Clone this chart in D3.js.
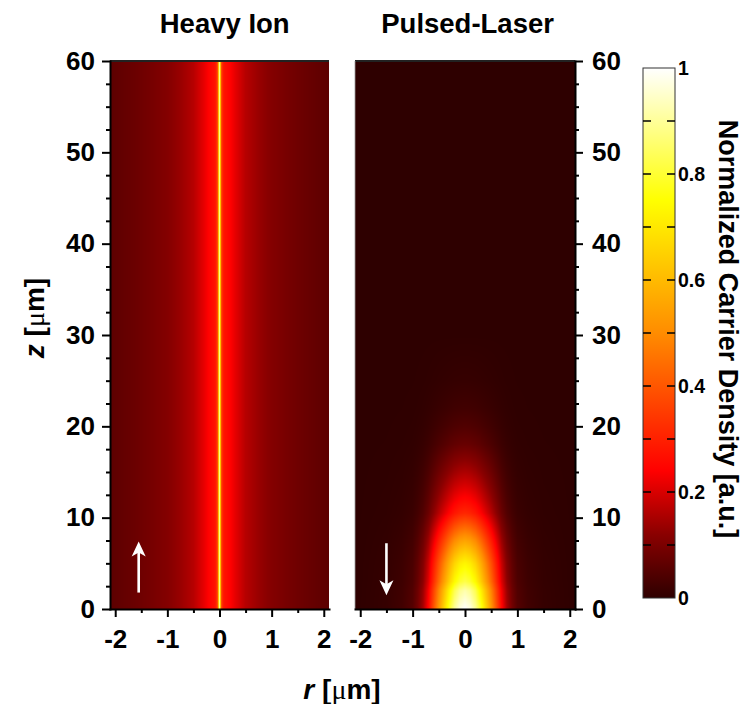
<!DOCTYPE html>
<html>
<head>
<meta charset="utf-8">
<script src="https://cdn.jsdelivr.net/npm/d3@7"></script>
<style>
body { margin: 0; background: #fff; }
svg text { font-family: "Liberation Sans", Arial, sans-serif; font-weight: bold; fill: #000; }
.axis path, .axis line { stroke: #000; stroke-width: 2; }
</style>
</head>
<body>
<svg id="chart" width="745" height="704"></svg>
<script>
// colour map: value -> colour
const cmapStops = [0, 0.12, 0.24, 0.5, 0.75, 1],
    cmapColors = ["#2e0000", "#8a0000", "#ff0000", "#ff8c00", "#ffff00", "#ffffff"];

// heavy ion track: radial profile |r| (um) -> density, same at every depth
const ionR = [0, 0.02, 0.04, 0.07, 0.1, 0.2, 0.3, 0.5, 0.75, 1.0, 1.3, 1.6, 1.9, 2.1],
    ionVal = [0.88, 0.6, 0.36, 0.29, 0.27, 0.245, 0.215, 0.165, 0.135, 0.112, 0.095, 0.08, 0.068, 0.06];

// pulsed laser: radial profile and axial profile (density = radial * axial)
const laserR = [0, 0.1, 0.2, 0.3, 0.4, 0.5, 0.6, 0.7, 0.8, 0.9, 1.0, 1.2, 1.5, 2.1],
    laserRVal = [1, 0.97, 0.9, 0.79, 0.66, 0.53, 0.39, 0.25, 0.15, 0.09, 0.05, 0.025, 0.01, 0];
const laserZ = [0, 2, 3, 5, 6, 7.5, 9, 10.5, 12, 13.5, 15, 16.5, 18, 20, 22, 25, 30, 60],
    laserZVal = [1, 0.92, 0.82, 0.73, 0.66, 0.55, 0.43, 0.31, 0.25, 0.2, 0.155, 0.115, 0.075, 0.045, 0.025, 0.01, 0, 0];

const zTicks = [0, 10, 20, 30, 40, 50, 60],
    zMinor = [2.5, 5, 7.5, 12.5, 15, 17.5, 22.5, 25, 27.5, 32.5, 35, 37.5, 42.5, 45, 47.5, 52.5, 55, 57.5],
    rTicks = [-2, -1, 0, 1, 2],
    rMinor = [-1.5, -0.5, 0.5, 1.5],
    barTicks = [0.1, 0.2, 0.3, 0.4, 0.5, 0.6, 0.7, 0.8, 0.9],
    barLabels = [0, 0.2, 0.4, 0.6, 0.8, 1];

const svg = d3.select("#chart");

const y = d3.scaleLinear().domain([0, 60]).range([609, 61]),
    xL = d3.scaleLinear().domain([-2.1, 2.1]).range([110, 329]),
    xR = d3.scaleLinear().domain([-2.1, 2.1]).range([355, 575]),
    yBar = d3.scaleLinear().domain([0, 1]).range([598, 68]),
    color = d3.scaleLinear().domain(cmapStops).range(cmapColors).clamp(true);

const ionProfile = d3.scaleLinear().domain(ionR).range(ionVal).clamp(true),
    laserRad = d3.scaleLinear().domain(laserR).range(laserRVal).clamp(true),
    laserAx = d3.scaleLinear().domain(laserZ).range(laserZVal).clamp(true);

function drawMap(x, f) {
    const x0 = x.range()[0], w = Math.round(x.range()[1] - x0),
        y0 = y.range()[1], h = Math.round(y.range()[0] - y0);
    const cv = document.createElement("canvas");
    cv.width = w; cv.height = h;
    const ctx = cv.getContext("2d"), img = ctx.createImageData(w, h);
    for (let j = 0; j < h; j++) {
        const z = y.invert(y0 + j + 0.5);
        for (let i = 0; i < w; i++) {
            const r = Math.abs(x.invert(x0 + i + 0.5)),
                c = d3.rgb(color(f(r, z))), k = (j * w + i) * 4;
            img.data[k] = c.r; img.data[k + 1] = c.g; img.data[k + 2] = c.b; img.data[k + 3] = 255;
        }
    }
    ctx.putImageData(img, 0, 0);
    svg.append("image").attr("x", x0).attr("y", y0).attr("width", w).attr("height", h)
        .attr("preserveAspectRatio", "none").attr("href", cv.toDataURL());
}

drawMap(xL, (r, z) => ionProfile(r));
drawMap(xR, (r, z) => laserRad(r) * laserAx(z));

// arrows
function arrow(x, zFrom, zTo) {
    const xa = x, y1 = y(zFrom), y2 = y(zTo), dir = y2 < y1 ? 1 : -1;
    svg.append("line").attr("x1", xa).attr("x2", xa).attr("y1", y1).attr("y2", y2 + dir * 8)
        .attr("stroke", "#fff").attr("stroke-width", 2.6);
    svg.append("path")
        .attr("d", `M${xa},${y2} L${xa - 7},${y2 + dir * 15} L${xa},${y2 + dir * 11} L${xa + 7},${y2 + dir * 15} Z`)
        .attr("fill", "#fff");
}
arrow(xL(-1.55), 1.8, 7.4);
arrow(xR(-1.5), 7.2, 1.5);

// frame top lines
svg.append("line").attr("x1", xL.range()[0]).attr("x2", xL.range()[1]).attr("y1", 61).attr("y2", 61)
    .attr("stroke", "#222").attr("stroke-width", 2);
svg.append("line").attr("x1", xR.range()[0]).attr("x2", xR.range()[1]).attr("y1", 61).attr("y2", 61)
    .attr("stroke", "#222").attr("stroke-width", 2);
svg.append("line").attr("x1", xR.range()[0]).attr("x2", xR.range()[0]).attr("y1", 61).attr("y2", 609)
    .attr("stroke", "#999").attr("stroke-width", 0.8);

const fmt = d => String(d);

function styleAxis(g, size) {
    g.attr("class", "axis");
    g.selectAll("text").style("font-size", size + "px").attr("fill", "#000");
    g.selectAll("path").attr("stroke-linecap", "square");
}

// left panel axes
svg.append("g").attr("transform", "translate(110,0)")
    .call(d3.axisLeft(y).tickValues(zTicks).tickSize(8).tickSizeOuter(0).tickPadding(7).tickFormat(fmt))
    .call(g => styleAxis(g, 26));
svg.append("g").attr("transform", "translate(110,0)")
    .call(d3.axisLeft(y).tickValues(zMinor).tickSize(4).tickFormat(""))
    .call(g => { styleAxis(g, 0); g.select(".domain").remove(); });
svg.append("g").attr("transform", "translate(0,609)")
    .call(d3.axisBottom(xL).tickValues(rTicks).tickSize(8).tickSizeOuter(0).tickPadding(13).tickFormat(fmt))
    .call(g => styleAxis(g, 26));
svg.append("g").attr("transform", "translate(0,609)")
    .call(d3.axisBottom(xL).tickValues(rMinor).tickSize(4).tickFormat(""))
    .call(g => { styleAxis(g, 0); g.select(".domain").remove(); });

// right panel axes
svg.append("g").attr("transform", "translate(575,0)")
    .call(d3.axisRight(y).tickValues(zTicks).tickSize(8).tickSizeOuter(0).tickPadding(9).tickFormat(fmt))
    .call(g => styleAxis(g, 26));
svg.append("g").attr("transform", "translate(575,0)")
    .call(d3.axisRight(y).tickValues(zMinor).tickSize(4).tickFormat(""))
    .call(g => { styleAxis(g, 0); g.select(".domain").remove(); });
svg.append("g").attr("transform", "translate(0,609)")
    .call(d3.axisBottom(xR).tickValues(rTicks).tickSize(8).tickSizeOuter(0).tickPadding(13).tickFormat(fmt))
    .call(g => styleAxis(g, 26));
svg.append("g").attr("transform", "translate(0,609)")
    .call(d3.axisBottom(xR).tickValues(rMinor).tickSize(4).tickFormat(""))
    .call(g => { styleAxis(g, 0); g.select(".domain").remove(); });

// panel titles
svg.append("text").attr("x", xL(0.1)).attr("y", 33).attr("text-anchor", "middle")
    .style("font-size", "27.5px").text("Heavy Ion");
svg.append("text").attr("x", xR(0.05)).attr("y", 33).attr("text-anchor", "middle")
    .style("font-size", "27.5px").text("Pulsed-Laser");

// axis titles
const zt = svg.append("text").attr("transform", "translate(44,318) rotate(-90)")
    .attr("text-anchor", "middle").style("font-size", "28px");
zt.append("tspan").style("font-style", "italic").text("z");
zt.append("tspan").text(" [");
zt.append("tspan").style("font-family", "'Liberation Serif', serif").style("font-weight", "normal").text("μ");
zt.append("tspan").text("m]");

const rt = svg.append("text").attr("x", 342).attr("y", 699)
    .attr("text-anchor", "middle").style("font-size", "28px");
rt.append("tspan").style("font-style", "italic").text("r");
rt.append("tspan").text(" [");
rt.append("tspan").style("font-family", "'Liberation Serif', serif").style("font-weight", "normal").text("μ");
rt.append("tspan").text("m]");

// colour bar
const barX0 = 643, barX1 = 675;
const grad = svg.append("defs").append("linearGradient").attr("id", "bar")
    .attr("x1", 0).attr("x2", 0).attr("y1", 1).attr("y2", 0);
grad.selectAll("stop").data(cmapStops).join("stop")
    .attr("offset", d => d).attr("stop-color", (d, i) => cmapColors[i]);
svg.append("rect").attr("x", barX0).attr("y", yBar(1)).attr("width", barX1 - barX0)
    .attr("height", yBar(0) - yBar(1)).attr("fill", "url(#bar)").attr("stroke", "#333").attr("stroke-width", 1);
svg.append("g").selectAll("line.tl").data(barTicks).join("line")
    .attr("x1", barX0).attr("x2", barX0 + 8).attr("y1", d => yBar(d)).attr("y2", d => yBar(d))
    .attr("stroke", "#000").attr("stroke-width", 1.5);
svg.append("g").selectAll("line.tr").data(barTicks).join("line")
    .attr("x1", barX1 - 8).attr("x2", barX1).attr("y1", d => yBar(d)).attr("y2", d => yBar(d))
    .attr("stroke", "#000").attr("stroke-width", 1.5);
svg.append("g").selectAll("text").data(barLabels).join("text")
    .attr("x", barX1 + 3).attr("y", d => yBar(d)).attr("dy", "0.36em")
    .style("font-size", "19.5px").text(fmt);

svg.append("text").attr("transform", "translate(719,329) rotate(90)")
    .attr("text-anchor", "middle").style("font-size", "27px")
    .text("Normalized Carrier Density [a.u.]");
</script>
</body>
</html>
